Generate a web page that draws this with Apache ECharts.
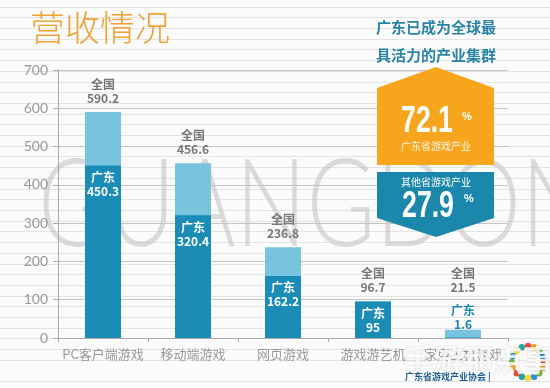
<!DOCTYPE html>
<html>
<head>
<meta charset="utf-8">
<script src="https://cdn.jsdelivr.net/npm/echarts@6/dist/echarts.min.js"></script>
<style>
html,body{margin:0;padding:0;}
body{width:550px;height:388px;background-color:#fbfbfb;
background-image:repeating-linear-gradient(to bottom, transparent 0px, transparent 6.7px, #e4e4e4 6.7px, #e4e4e4 7.7px, transparent 7.7px, transparent 10.7px);}
#c{width:550px;height:388px;}
</style>
</head>
<body>
<div id="c"></div>
<script>
const categories = ['PC客户端游戏','移动端游戏','网页游戏','游戏游艺机','家用主机游戏'];
const nationalValues = [590.2, 456.6, 236.8, 96.7, 21.5];
const guangdongValues = [450.3, 320.4, 162.2, 95, 1.6];
const yTicks = [0,100,200,300,400,500,600,700];
const shareGuangdong = '72.1';
const shareOthers = '27.9';

const CJK = '"Noto Sans CJK SC", sans-serif';
const dark = '#1a8cb6';
const light = '#78c3dd';
const bigNum = 'bold 37px "Liberation Sans", Arial, sans-serif';

const chart = echarts.init(document.getElementById('c'), null, {renderer:'canvas'});

const natData = nationalValues.map((v,i)=>{
  if (i === 4) return {value:v, label:{offset:[0,-28]}};
  return v;
});
const gdData = guangdongValues.map((v,i)=>{
  if (i === 4) return {value:v, label:{position:'top', distance:6, color:'#1a86b0'}};
  return v;
});

chart.setOption({
  backgroundColor:'transparent',
  animation:false,
  grid:{left:58, right:42, top:70, bottom:50},
  graphic:[
    {type:'text', left:38, top:146, z:0, silent:true,
     style:{text:'GUANGDONG', font:'300 122px Lato, "Open Sans", sans-serif', fill:'rgba(200,200,200,0.65)'},
     scaleX:0.77},
    {type:'text', left:30, top:10, z:10,
     style:{text:'营收情况', font:'300 35px '+CJK, fill:'#f0a235'}},
    {type:'text', left:376, top:20, z:10,
     style:{text:'广东已成为全球最', font:'bold 15px '+CJK, fill:'#2a84a4'}},
    {type:'text', left:376, top:48, z:10,
     style:{text:'具活力的产业集群', font:'bold 15px '+CJK, fill:'#2a84a4'}},
    {type:'polygon', z:10, shape:{points:[[377,88],[436,67],[494,88],[494,165],[377,165]]}, style:{fill:'#f7a51c'}},
    {type:'polygon', z:10, shape:{points:[[377,172],[494,172],[494,218],[436,237],[377,218]]}, style:{fill:'#1b87aa'}},
    {type:'text', x:427, y:122, z:11, scaleX:0.72,
     style:{text:shareGuangdong, font:bigNum, fill:'#fff', align:'center', verticalAlign:'middle'}},
    {type:'text', x:467, y:117, z:11,
     style:{text:'%', font:'bold 11px sans-serif', fill:'#fff', align:'center', verticalAlign:'middle'}},
    {type:'text', x:436, y:146, z:11,
     style:{text:'广东省游戏产业', font:'normal 10px '+CJK, fill:'rgba(255,255,255,0.9)', align:'center', verticalAlign:'middle'}},
    {type:'text', x:436, y:182, z:11,
     style:{text:'其他省游戏产业', font:'normal 10px '+CJK, fill:'#fff', align:'center', verticalAlign:'middle'}},
    {type:'text', x:428, y:207, z:11, scaleX:0.72,
     style:{text:shareOthers, font:bigNum, fill:'#fff', align:'center', verticalAlign:'middle'}},
    {type:'text', x:469, y:199, z:11,
     style:{text:'%', font:'bold 11px sans-serif', fill:'#fff', align:'center', verticalAlign:'middle'}},
    {type:'text', x:478, y:360, z:12,
     style:{text:'手游那点事', font:'bold 30px '+CJK, fill:'rgba(255,255,255,0.85)', align:'center', verticalAlign:'middle', textShadowColor:'rgba(0,0,0,0.25)', textShadowBlur:2}},
    {type:'text', x:405, y:377, z:12,
     style:{text:'广东省游戏产业协会 |', font:'bold 9px '+CJK, fill:'#1d5f92', verticalAlign:'middle'}},
    {type:'group', x:528, y:362, z:12, children:
      [0,1,2,3,4,5,6,7,8,9,10,11,12,13,14,15].map(k=>{
        const a = k/16*Math.PI*2;
        const cols=['#e94b3c','#f5a623','#7cb342','#2b8fd6','#fdd835','#26a69a'];
        return {type:'circle', shape:{cx:Math.cos(a)*16, cy:Math.sin(a)*16, r:3.2}, style:{fill:cols[k%6]}};
      })
    }
  ],
  xAxis:{
    type:'category', data:categories,
    axisLine:{lineStyle:{color:'#aaa'}},
    axisTick:{show:true, length:4, lineStyle:{color:'#aaa'}},
    axisLabel:{color:'#999', fontSize:13, margin:10, fontFamily:CJK, interval:0}
  },
  yAxis:{
    type:'value', min:yTicks[0], max:yTicks[yTicks.length-1], interval:100,
    axisLine:{show:true, lineStyle:{color:'#aaa'}},
    axisTick:{show:true, length:5, lineStyle:{color:'#aaa'}},
    axisLabel:{color:'#999', fontSize:14, margin:10, fontFamily:'Lato, sans-serif'},
    splitLine:{lineStyle:{color:'#c4c4c4'}}
  },
  series:[
    {name:'全国', type:'bar', data:natData, barWidth:36, barGap:'-100%', z:2,
     itemStyle:{color:light},
     label:{show:true, position:'top', distance:7, formatter:p=>'全国\n'+p.value, color:'#777', fontWeight:'bold', fontSize:12, lineHeight:14, fontFamily:CJK}},
    {name:'广东', type:'bar', data:gdData, barWidth:36, z:3,
     itemStyle:{color:dark},
     label:{show:true, position:'insideTop', distance:5, formatter:p=>'广东\n'+p.value, color:'#fff', fontWeight:'bold', fontSize:12, lineHeight:14, fontFamily:CJK}}
  ]
});
</script>
</body>
</html>
